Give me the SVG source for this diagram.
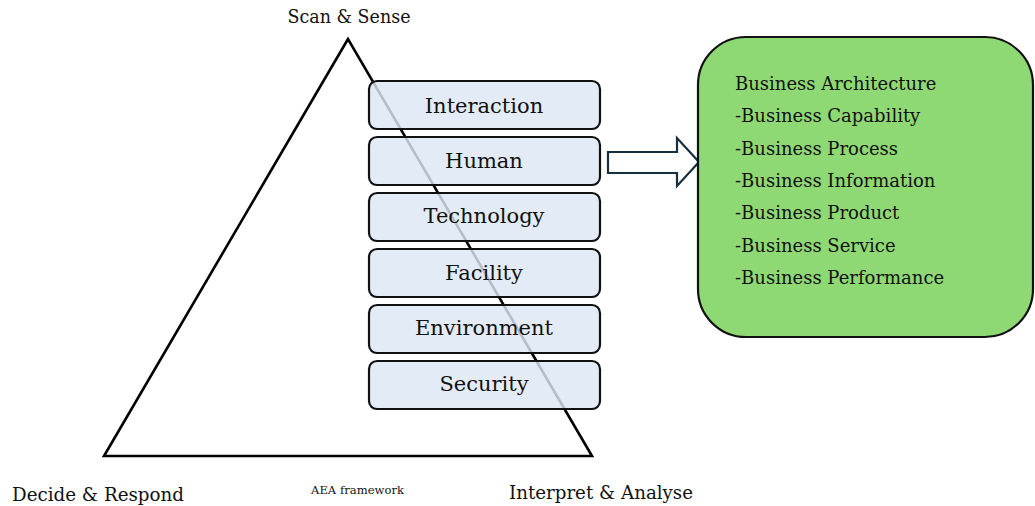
<svg xmlns="http://www.w3.org/2000/svg" width="1035" height="506" viewBox="0 0 1035 506">
<style>
text{font-family:"DejaVu Serif","Liberation Serif",serif;fill:#111}
.lbl{font-size:18px}
.layer rect{fill:#dde8f4;fill-opacity:0.82;stroke:#111;stroke-width:2.2}
.layer text{font-size:21px;text-anchor:middle}
.ba text{font-size:18px}
</style>
<rect width="1035" height="506" fill="#fff"/>
<g id="triangle">
<polygon points="348,39 104,456 592,456" fill="none" stroke="#000" stroke-width="2.6" stroke-linejoin="miter"/>
</g>
<g id="labels">
<text class="lbl" x="349" y="23" text-anchor="middle" textLength="123" lengthAdjust="spacingAndGlyphs">Scan &amp; Sense</text>
<text class="lbl" x="12" y="501" textLength="172" lengthAdjust="spacingAndGlyphs">Decide &amp; Respond</text>
<text x="311" y="494" font-size="11.5" textLength="93" lengthAdjust="spacingAndGlyphs">AEA framework</text>
<text class="lbl" x="509" y="499" textLength="184" lengthAdjust="spacingAndGlyphs">Interpret &amp; Analyse</text>
</g>
<g id="layer-interaction" class="layer"><rect x="369" y="81" width="231" height="48" rx="8"/><text x="484" y="113">Interaction</text></g>
<g id="layer-human" class="layer"><rect x="369" y="137" width="231" height="48" rx="8"/><text x="484" y="168">Human</text></g>
<g id="layer-technology" class="layer"><rect x="369" y="193" width="231" height="48" rx="8"/><text x="484" y="223">Technology</text></g>
<g id="layer-facility" class="layer"><rect x="369" y="249" width="231" height="48" rx="8"/><text x="484" y="280">Facility</text></g>
<g id="layer-environment" class="layer"><rect x="369" y="305" width="231" height="48" rx="8"/><text x="484" y="335">Environment</text></g>
<g id="layer-security" class="layer"><rect x="369" y="361" width="231" height="48" rx="8"/><text x="484" y="391">Security</text></g>
<g id="connectors">
<polygon points="608,152 677,152 677,138 699,162 677,186 677,173 608,173" fill="#fff" stroke="#17303f" stroke-width="2.2" stroke-linejoin="miter"/>
</g>
<g id="business-architecture" class="ba">
<rect x="698" y="37" width="335" height="300" rx="48" fill="#8fd974" stroke="#111" stroke-width="2.2"/>
<text x="735" y="90">Business Architecture</text>
<text x="735" y="122">-Business Capability</text>
<text x="735" y="155">-Business Process</text>
<text x="735" y="187">-Business Information</text>
<text x="735" y="219">-Business Product</text>
<text x="735" y="252">-Business Service</text>
<text x="735" y="284">-Business Performance</text>
</g>
</svg>
